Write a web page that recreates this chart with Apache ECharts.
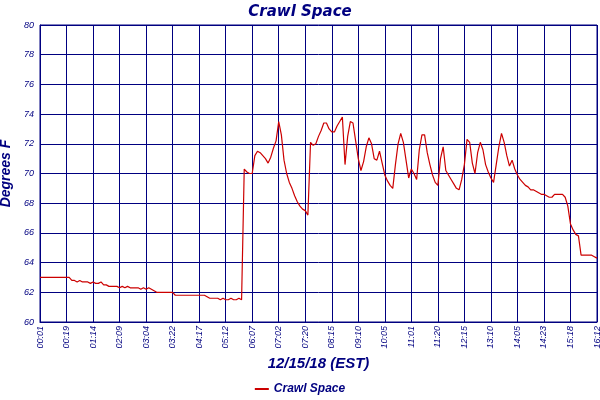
<!DOCTYPE html>
<html><head><meta charset="utf-8">
<script src="https://cdn.jsdelivr.net/npm/echarts@6/dist/echarts.min.js"></script>
<style>html,body{margin:0;padding:0;background:#fff}#c{width:600px;height:400px}</style>
</head><body><div id="c"></div>
<script>
const tickLabels = ['00:01','00:19','01:14','02:09','03:04','03:22','04:17','05:12','06:07','07:02','07:20','08:15','09:10','10:05','11:01','11:20','12:15','13:10','14:05','14:23','15:18','16:12'];
const temps = [
63.0,63.0,63.0,63.0,63.0,63.0,63.0,63.0,63.0,63.0,63.0,63.0,
62.8,62.8,62.7,62.8,62.7,62.7,62.7,62.6,62.7,
62.6,62.6,62.7,62.5,62.5,62.4,62.4,62.4,62.4,62.3,
62.4,62.3,62.4,62.3,62.3,62.3,62.3,62.2,62.3,62.2,
62.3,62.2,62.1,62.0,62.0,62.0,62.0,62.0,62.0,62.0,
61.8,61.8,61.8,61.8,61.8,61.8,61.8,61.8,61.8,61.8,
61.8,61.8,61.7,61.6,61.6,61.6,61.6,61.5,61.6,61.5,
61.5,61.6,61.5,61.5,61.6,61.5,
70.3,70.1,70.0,70.0,71.2,71.5,71.4,71.2,71.0,70.7,71.1,71.7,72.2,73.5,72.6,70.9,70.0,69.4,69.0,68.5,
68.1,67.8,67.6,67.5,67.2,72.1,71.9,72.0,72.5,72.9,73.4,73.4,73.0,72.8,72.8,73.2,73.5,73.8,70.6,72.5,
73.5,73.4,72.2,71.0,70.2,70.8,71.8,72.4,72.0,71.0,70.9,71.5,70.7,69.9,69.5,69.2,69.0,70.6,72.0,72.7,
72.1,70.9,69.7,70.3,70.0,69.6,71.6,72.6,72.6,71.4,70.6,69.9,69.4,69.2,71.0,71.8,70.2,69.9,69.6,69.3,
69.0,68.9,69.6,70.6,72.3,72.1,70.7,70.0,71.4,72.1,71.6,70.6,70.1,69.7,69.4,70.6,71.8,72.7,72.1,71.2,
70.5,70.9,70.3,69.9,69.6,69.4,69.2,69.1,68.9,68.9,68.8,68.7,68.6,68.6,68.5,68.4,68.4,68.6,68.6,68.6,
68.6,68.4,67.8,66.6,66.2,65.9,65.8,64.5,64.5,64.5,64.5,64.5,64.4,64.3];
const yTicks = [60,62,64,66,68,70,72,74,76,78,80];
const navy = '#000080';
const cats = temps.map((_, i) => String(i));
const chart = echarts.init(document.getElementById('c'));
chart.setOption({
  animation: false,
  backgroundColor: '#fff',
  title: {text: 'Crawl Space', left: 'center', top: 0,
    textStyle: {color: navy, fontStyle: 'italic', fontWeight: 'bold', fontSize: 15, fontFamily: 'DejaVu Sans'}},
  legend: {bottom: 0, left: 'center', icon: 'rect', itemWidth: 14, itemHeight: 2, itemGap: 4,
    textStyle: {color: navy, fontStyle: 'italic', fontWeight: 'bold', fontSize: 12}, data: ['Crawl Space']},
  grid: {left: 40, right: 3, top: 25, bottom: 78, show: true, borderColor: navy, borderWidth: 1, outerBoundsMode: 'none'},
  xAxis: {type: 'category', data: cats, boundaryGap: false,
    name: '12/15/18 (EST)', nameLocation: 'middle', nameGap: 32,
    nameTextStyle: {color: navy, fontStyle: 'italic', fontWeight: 'bold', fontSize: 15},
    axisLine: {lineStyle: {color: navy}}, axisTick: {show: false},
    axisLabel: {interval: 9, rotate: 90, color: navy, fontSize: 9, fontStyle: 'italic', margin: 4,
      formatter: (v, i) => tickLabels[Math.round(i / 10)] || ''},
    splitLine: {show: true, interval: 9, lineStyle: {color: navy, width: 1}}},
  yAxis: {type: 'value', min: yTicks[0], max: yTicks[yTicks.length - 1], interval: 2,
    name: 'Degrees F', nameLocation: 'middle', nameGap: 23,
    nameTextStyle: {color: navy, fontStyle: 'italic', fontWeight: 'bold', fontSize: 14},
    axisLine: {show: true, lineStyle: {color: navy}}, axisTick: {show: false},
    axisLabel: {color: navy, fontSize: 9, fontStyle: 'italic', margin: 6},
    splitLine: {lineStyle: {color: navy, width: 1}}},
  series: [{name: 'Crawl Space', type: 'line', data: temps, showSymbol: false,
    lineStyle: {color: '#cc0000', width: 1.2}, itemStyle: {color: '#cc0000'}}]
});
</script></body></html>
